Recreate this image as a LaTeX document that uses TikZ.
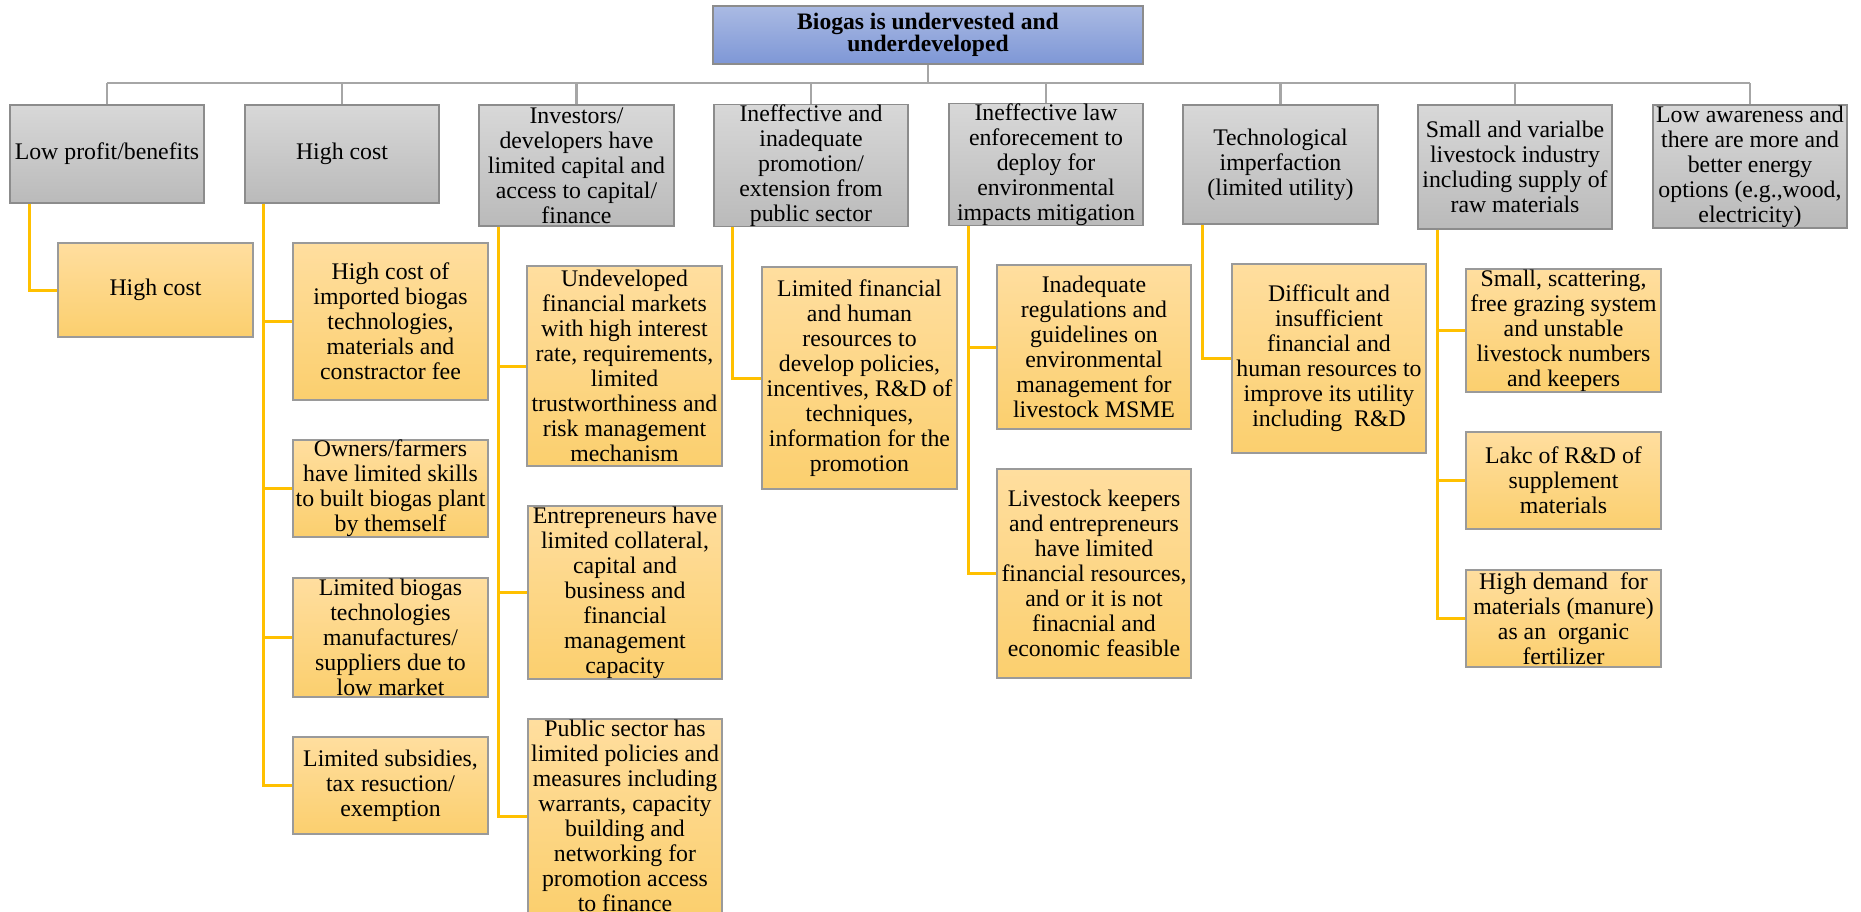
\documentclass[tikz,border=0pt]{standalone}
\usepackage{fontspec}
\setmainfont{Liberation Serif}
\usetikzlibrary{calc}

\definecolor{grayTop}{HTML}{D8D8D8}
\definecolor{grayBot}{HTML}{BABABA}
\definecolor{grayEdge}{HTML}{8C8C8C}
\definecolor{goldTop}{HTML}{FFDE9F}
\definecolor{goldBot}{HTML}{FBCF6E}
\definecolor{goldEdge}{HTML}{9A9A9A}
\definecolor{blueTop}{HTML}{AABAE3}
\definecolor{blueBot}{HTML}{7E97D6}
\definecolor{busGray}{HTML}{A6A6A6}
\definecolor{linkGold}{HTML}{FFC000}

\tikzset{
  base/.style={rectangle, align=center, inner sep=0pt, text=black,
    font=\fontsize{23.8}{25}\selectfont, line width=1.3pt},
  catbox/.style={base, draw=grayEdge, top color=grayTop, bottom color=grayBot},
  causebox/.style={base, draw=goldEdge, top color=goldTop, bottom color=goldBot},
  headbox/.style={base, draw=grayEdge, top color=blueTop, bottom color=blueBot,
    font=\fontsize{23.6}{22.5}\selectfont\bfseries},
  busline/.style={draw=busGray, line width=2.2pt},
  linkline/.style={draw=linkGold, line width=3pt},
}

\begin{document}
\begin{tikzpicture}[x=1pt, y=-1pt]
\useasboundingbox (0,0) rectangle (1861,912);

% headline
\node[headbox, minimum width=430pt, minimum height=58pt] (top) at (928,35)
  {Biogas is undervested and\\underdeveloped};

% first level: categories
\node[catbox, minimum width=194pt, minimum height=98pt]  (a1) at (107,154)   {Low profit/benefits};
\node[catbox, minimum width=194pt, minimum height=98pt]  (a2) at (342,154)   {High cost};
\node[catbox, minimum width=195pt, minimum height=121pt] (a3) at (576.5,165.5)
  {Investors/\\developers have\\limited capital and\\access to capital/\\finance};
\node[catbox, minimum width=194pt, minimum height=121pt] (a4) at (811,165.5)
  {Ineffective and\\inadequate\\promotion/\\extension from\\public sector};
\node[catbox, minimum width=194pt, minimum height=119pt] (a5) at (1046,164.5)
  {Ineffective law\\enforecement to\\deploy for\\environmental\\impacts mitigation};
\node[catbox, minimum width=195pt, minimum height=119pt] (a6) at (1280.5,164.5)
  {Technological\\imperfaction\\(limited utility)};
\node[catbox, minimum width=194pt, minimum height=124pt] (a7) at (1515,167)
  {Small and varialbe\\livestock industry\\including supply of\\raw materials};
\node[catbox, minimum width=194pt, minimum height=123pt] (a8) at (1750,166.5)
  {Low awareness and\\there are more and\\better energy\\options (e.g.,wood,\\electricity)};

% bus from the headline to the categories
\coordinate (busL) at (107,83);
\coordinate (busR) at (1750,83);
\draw[busline] (top.south) -- (top.south |- busL);
\draw[busline] (busL) -- (busR);
\foreach \n in {a1,a2,a3,a4,a5,a6,a7,a8}
  \draw[busline] (\n.north) -- (\n.north |- busL);

% second level: causes
\node[causebox, minimum width=195pt, minimum height=94pt]  (b1) at (155.5,290) {High cost};

\node[causebox, minimum width=195pt, minimum height=157pt] (c1) at (390.5,321.5)
  {High cost of\\imported biogas\\technologies,\\materials and\\constractor fee};
\node[causebox, minimum width=195pt, minimum height=97pt]  (c2) at (390.5,488.5)
  {Owners/farmers\\have limited skills\\to built biogas plant\\by themself};
\node[causebox, minimum width=195pt, minimum height=119pt] (c3) at (390.5,637.5)
  {Limited biogas\\technologies\\manufactures/\\suppliers due to\\low market};
\node[causebox, minimum width=195pt, minimum height=97pt]  (c4) at (390.5,785.5)
  {Limited subsidies,\\tax resuction/\\exemption};

\node[causebox, minimum width=195pt, minimum height=200pt] (d1) at (624.5,366)
  {Undeveloped\\financial markets\\with high interest\\rate, requirements,\\limited\\trustworthiness and\\risk management\\mechanism};
\node[causebox, minimum width=194pt, minimum height=173pt] (d2) at (625,592.5)
  {Entrepreneurs have\\limited collateral,\\capital and\\business and\\financial\\management\\capacity};
\node[causebox, minimum width=194pt, minimum height=194pt] (d3) at (625,816)
  {Public sector has\\limited policies and\\measures including\\warrants, capacity\\building and\\networking for\\promotion access\\to finance};

\node[causebox, minimum width=195pt, minimum height=222pt] (e1) at (859.5,378)
  {Limited financial\\and human\\resources to\\develop policies,\\incentives, R\&D of\\techniques,\\information for the\\promotion};

\node[causebox, minimum width=194pt, minimum height=164pt] (f1) at (1094,347)
  {Inadequate\\regulations and\\guidelines on\\environmental\\management for\\livestock MSME};
\node[causebox, minimum width=194pt, minimum height=209pt] (f2) at (1094,573.5)
  {Livestock keepers\\and entrepreneurs\\have limited\\financial resources,\\and or it is not\\finacnial and\\economic feasible};

\node[causebox, minimum width=194pt, minimum height=189pt] (g1) at (1329,358.5)
  {Difficult and\\insufficient\\financial and\\human resources to\\improve its utility\\including\ \ R\&D};

\node[causebox, minimum width=195pt, minimum height=123pt] (h1) at (1563.5,330.5)
  {Small, scattering,\\free grazing system\\and unstable\\livestock numbers\\and keepers};
\node[causebox, minimum width=195pt, minimum height=97pt]  (h2) at (1563.5,480.5)
  {Lakc of R\&D of\\supplement\\materials};
\node[causebox, minimum width=195pt, minimum height=97pt]  (h3) at (1563.5,618.5)
  {High demand\ \ for\\materials (manure)\\as an\ \ organic\\fertilizer};

% elbow links from each category to its causes
\draw[linkline] ($(a1.south west)+(20,0)$) |- (b1.west);
\foreach \c in {c1,c2,c3,c4}
  \draw[linkline] ($(a2.south west)+(19,0)$) |- (\c.west);
\foreach \c in {d1,d2,d3}
  \draw[linkline] ($(a3.south west)+(20,0)$) |- (\c.west);
\draw[linkline] ($(a4.south west)+(19,0)$) |- (e1.west);
\foreach \c in {f1,f2}
  \draw[linkline] ($(a5.south west)+(20,0)$) |- (\c.west);
\draw[linkline] ($(a6.south west)+(20,0)$) |- (g1.west);
\foreach \c in {h1,h2,h3}
  \draw[linkline] ($(a7.south west)+(20,0)$) |- (\c.west);
\end{tikzpicture}
\end{document}
